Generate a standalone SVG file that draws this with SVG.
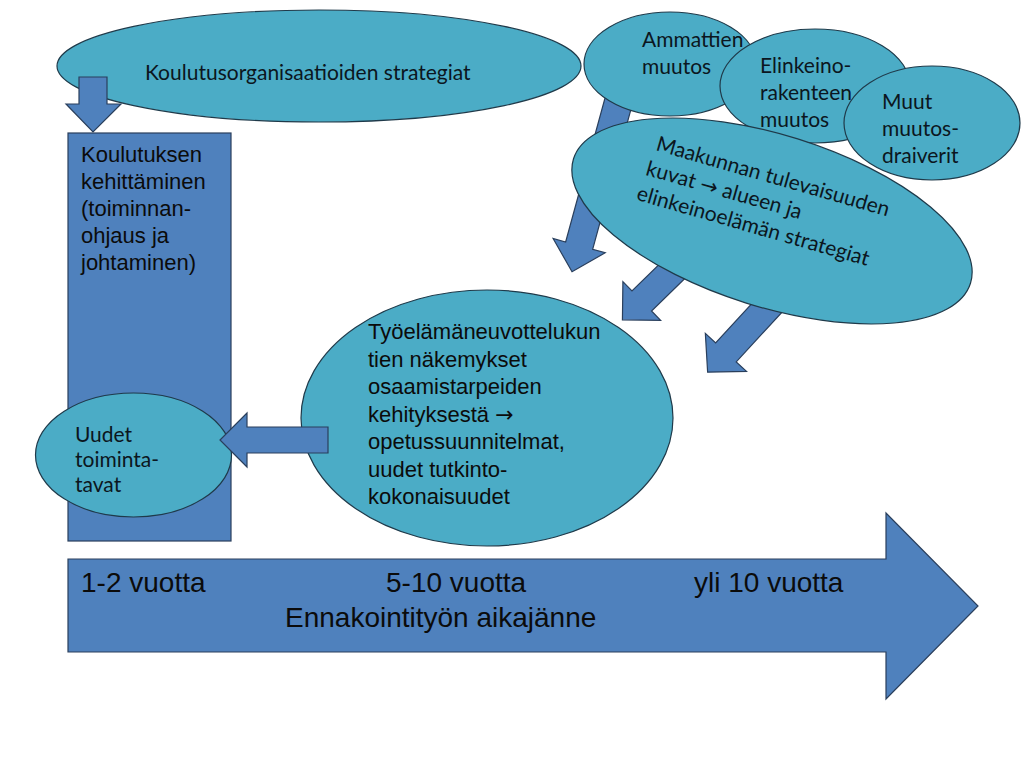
<svg xmlns="http://www.w3.org/2000/svg" width="1024" height="768" viewBox="0 0 1024 768">
<style>
.teal{fill:#4BACC6;stroke:#1F3A4A;stroke-width:1.2}
.blue{fill:#4F81BD;stroke:#2A3F5C;stroke-width:1.2}
.cal{font-family:Lato,"Open Sans","Noto Sans",sans-serif;font-size:21px;fill:#0B1620}
.ari{font-family:"Liberation Sans",Arial,sans-serif;font-size:22px;fill:#0B0B0B}
.big{font-family:"Liberation Sans",Arial,sans-serif;font-size:28px;fill:#0B0B0B}
.sym{font-family:"DejaVu Sans",sans-serif}
</style>
<defs>
<polygon id="arrA" points="0,-14 151,-14 151,-27 178,0 151,27 151,14 0,14"/>
<polygon id="arrB" points="0,-14 73,-14 73,-27 100,0 73,27 73,14 0,14"/>
<polygon id="arrC" points="0,-14 93,-14 93,-28 120,0 93,28 93,14 0,14"/>
</defs>
<rect width="1024" height="768" fill="#FFFFFF"/>

<g id="koulutusorganisaatiot">
<ellipse class="teal" cx="319" cy="66" rx="262" ry="56"/>
<text class="cal" x="145" y="80">Koulutusorganisaatioiden strategiat</text>
</g>

<g id="connectors-left">
<polygon class="blue" points="79,77 107,77 107,104 121,104 93,132 66,104 79,104"/>
</g>

<g id="koulutuksen-kehittaminen">
<rect class="blue" x="68" y="133" width="163" height="408"/>
<text class="ari" x="81" y="162">Koulutuksen</text>
<text class="ari" x="81" y="189">kehittäminen</text>
<text class="ari" x="81" y="216">(toiminnan-</text>
<text class="ari" x="81" y="243">ohjaus ja</text>
<text class="ari" x="81" y="270">johtaminen)</text>
</g>

<g id="uudet-toimintatavat">
<ellipse class="teal" cx="133.5" cy="455" rx="98" ry="62"/>
<text class="cal" x="75" y="442">Uudet</text>
<text class="cal" x="75" y="467">toiminta-</text>
<text class="cal" x="75" y="492">tavat</text>
</g>

<g id="tyoelamaneuvottelukunnat">
<ellipse class="teal" cx="487" cy="418" rx="186" ry="128"/>
<text class="ari" x="368" y="339">Työelämäneuvottelukun</text>
<text class="ari" x="368" y="366.5">tien näkemykset</text>
<text class="ari" x="368" y="394">osaamistarpeiden</text>
<text class="ari" x="368" y="421.5">kehityksestä <tspan class="sym">→</tspan></text>
<text class="ari" x="368" y="449">opetussuunnitelmat,</text>
<text class="ari" x="368" y="476.5">uudet tutkinto-</text>
<text class="ari" x="368" y="504">kokonaisuudet</text>
</g>

<g id="connectors-mid">
<polygon class="blue" points="328,427 247,427 247,413 220,440 247,467 247,453 328,453"/>
</g>

<g id="connectors-top">
<use href="#arrA" class="blue" transform="translate(619,100) rotate(105.3)"/>
<use href="#arrB" class="blue" transform="translate(694,250) rotate(135.7)"/>
<use href="#arrC" class="blue" transform="translate(789,284) rotate(132.7)"/>
</g>

<g id="ammattien-muutos">
<ellipse class="teal" cx="670" cy="64" rx="86" ry="52"/>
<text class="cal" x="642" y="47">Ammattien</text>
<text class="cal" x="642" y="74">muutos</text>
</g>

<g id="elinkeinorakenteen-muutos">
<ellipse class="teal" cx="815" cy="86" rx="95" ry="57"/>
<text class="cal" x="760" y="73">Elinkeino-</text>
<text class="cal" x="760" y="100">rakenteen</text>
<text class="cal" x="760" y="127">muutos</text>
</g>

<g id="muut-muutosdraiverit">
<ellipse class="teal" cx="932" cy="123" rx="88" ry="57"/>
<text class="cal" x="882" y="109">Muut</text>
<text class="cal" x="882" y="136">muutos-</text>
<text class="cal" x="882" y="163">draiverit</text>
</g>

<g id="maakunnan-tulevaisuudenkuvat">
<ellipse class="teal" cx="772" cy="221" rx="208" ry="86" transform="rotate(17.4 772 221)"/>
<g transform="translate(655,150) rotate(16)">
<text class="cal" x="0" y="0">Maakunnan tulevaisuuden</text>
<text class="cal" x="-3" y="26.5">kuvat  <tspan class="sym">→</tspan> alueen ja</text>
<text class="cal" x="-5" y="53">elinkeinoelämän strategiat</text>
</g>
</g>

<g id="aikajanne">
<polygon class="blue" points="68,559 886,559 886,513 978,606 886,699 886,652 68,652"/>
<text class="big" x="81" y="592">1-2 vuotta</text>
<text class="big" x="386" y="592">5-10 vuotta</text>
<text class="big" x="694" y="592">yli 10 vuotta</text>
<text class="big" x="285" y="627">Ennakointityön aikajänne</text>
</g>
</svg>
